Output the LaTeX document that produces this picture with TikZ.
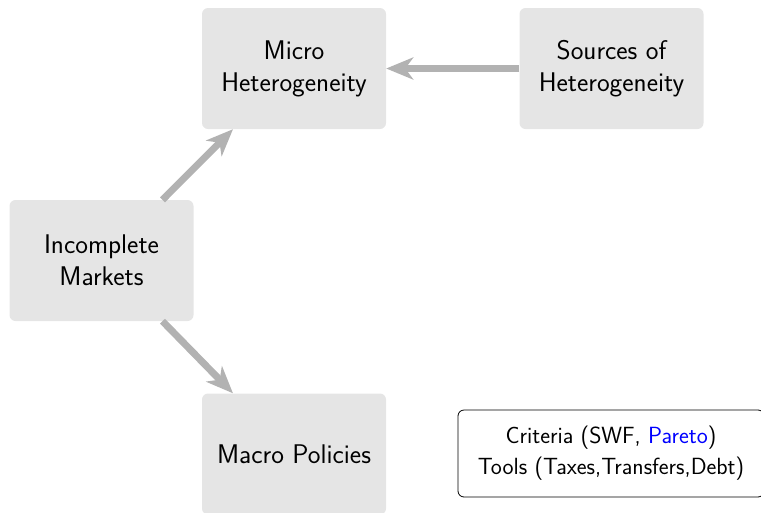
\documentclass[tikz,border=0pt]{standalone}
\usepackage{fontspec}
\usetikzlibrary{arrows.meta}
\tikzset{
  box/.style={fill=gray!20, rounded corners=6pt, minimum width=184pt, minimum height=121pt,
    align=center, inner sep=0pt, font=\sffamily\fontsize{27}{32}\selectfont},
  arr/.style={draw=gray!60, line width=7pt, -{Stealth[length=27pt,width=22pt,inset=8pt]}},
  note/.style={draw=black, line width=0.8pt, rounded corners=6pt, minimum width=306pt, minimum height=87pt,
    align=center, inner sep=0pt, font=\sffamily\fontsize{23.4}{31}\selectfont}
}
\begin{document}
\begin{tikzpicture}[x=1pt,y=-1pt]
\useasboundingbox (0,0) rectangle (761,512);
\begin{scope}
\clip (0,0) rectangle (761,512);
\node[box] (micro) at (294,68.5) {Micro\\Heterogeneity};
\node[box] (src) at (611.5,68.5) {Sources of\\Heterogeneity};
\node[box] (inc) at (101.5,260.5) {Incomplete\\Markets};
\node[box] (macro) at (294,454) {Macro Policies};
\node[note] (crit) at (611,453.5) {Criteria (SWF, \textcolor{blue}{Pareto})\\Tools (Taxes,Transfers,Debt)};
\draw[arr] ([xshift=61pt]inc.north) -- ([xshift=-61pt]micro.south);
\draw[arr] ([xshift=61pt]inc.south) -- ([xshift=-61pt]macro.north);
\draw[arr] (src.west) -- (micro.east);
\end{scope}
\end{tikzpicture}
\end{document}
